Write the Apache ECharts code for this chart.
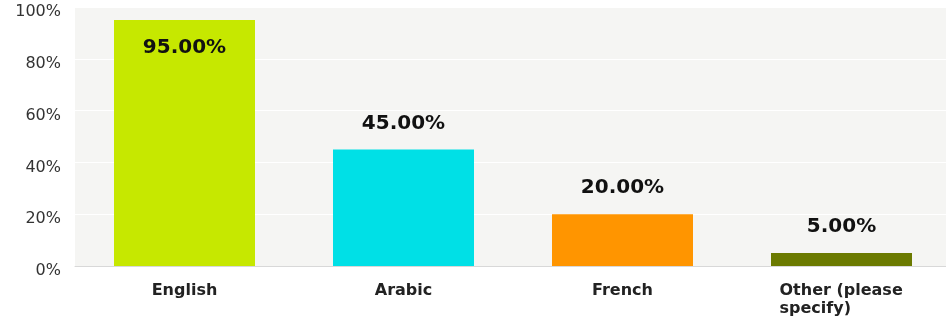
<!DOCTYPE html>
<html>
<head>
    <meta charset="utf-8">
    <title>Languages</title>
    <script src="https://cdn.jsdelivr.net/npm/echarts@6/dist/echarts.min.js"></script>
    <style>
        html, body { margin: 0; padding: 0; background: #fff; overflow: hidden; }
        /* a bit wider than the window: the plot runs past the right edge */
        #chart { width: 952px; height: 319px; }
    </style>
</head>
<body>
<div id="chart"></div>
<script type="text/javascript">
    // data
    var categories = ['English', 'Arabic', 'French', 'Other (please\nspecify)'];
    var percents = [95, 45, 20, 5];
    var barColors = ['#c6e800', '#00e0e6', '#ff9500', '#6b7a00'];
    var yTicks = [0, 20, 40, 60, 80, 100];

    var myChart = echarts.init(document.getElementById('chart'));

    var seriesData = percents.map(function (v, i) {
        var inside = v > 90;
        return {
            value: v,
            itemStyle: { color: barColors[i] },
            label: {
                position: inside ? 'insideTop' : 'top',
                distance: inside ? 18 : 16
            }
        };
    });

    myChart.setOption({
        animation: false,
        grid: {
            left: 75, right: 1, top: 7, bottom: 53,
            show: true,
            backgroundColor: '#f5f5f3',
            borderWidth: 0
        },
        xAxis: {
            type: 'category',
            data: categories,
            axisLine: { lineStyle: { color: '#d8d8d8' } },
            axisTick: { show: false },
            axisLabel: {
                color: '#222',
                fontFamily: 'DejaVu Sans',
                fontWeight: 'bold',
                fontSize: 16,
                margin: 16,
                lineHeight: 18,
                // two-line label is left aligned in the picture
                formatter: function (v) {
                    if (v.indexOf('\n') < 0) return v;
                    return v.split('\n').map(function (s) { return '{l|' + s + '}'; }).join('\n');
                },
                rich: {
                    l: {
                        width: 124, align: 'left',
                        color: '#222', fontFamily: 'DejaVu Sans', fontWeight: 'bold',
                        fontSize: 16, lineHeight: 18
                    }
                }
            }
        },
        yAxis: {
            type: 'value',
            min: yTicks[0],
            max: yTicks[yTicks.length - 1],
            interval: 20,
            axisLine: { show: false },
            axisTick: { show: false },
            splitLine: { lineStyle: { color: '#ffffff', width: 1 } },
            axisLabel: {
                formatter: '{value}%',
                color: '#333',
                fontFamily: 'DejaVu Sans',
                fontSize: 16,
                margin: 14,
                verticalAlign: 'top',
                lineHeight: 10
            }
        },
        series: [{
            type: 'bar',
            data: seriesData,
            barWidth: 141,
            label: {
                show: true,
                formatter: function (p) { return p.value.toFixed(2) + '%'; },
                color: '#111',
                fontFamily: 'DejaVu Sans',
                fontWeight: 'bold',
                fontSize: 20
            }
        }]
    });
</script>
</body>
</html>
